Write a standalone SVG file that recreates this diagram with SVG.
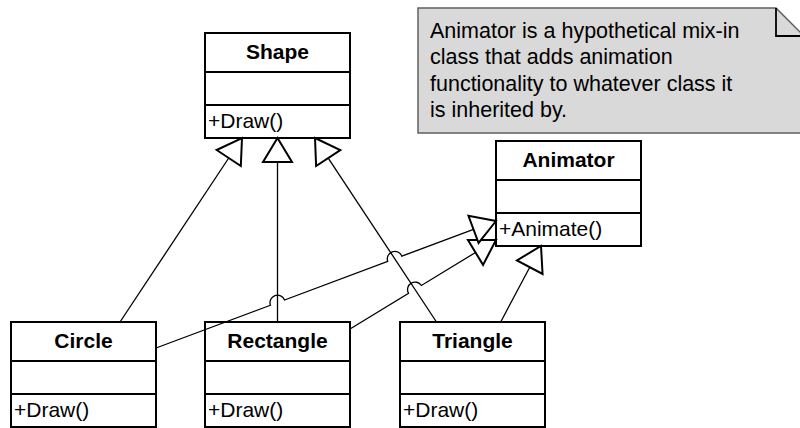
<svg xmlns="http://www.w3.org/2000/svg" width="800" height="428" viewBox="0 0 800 428">
<style>
.box{fill:#fff;stroke:#000;stroke-width:2}
.sep{stroke:#000;stroke-width:2}
.name{font-family:"Liberation Sans",Arial,sans-serif;font-size:21px;font-weight:bold;text-anchor:middle;fill:#000}
.mem{font-family:"Liberation Sans",Arial,sans-serif;font-size:21px;fill:#000}
.note{font-family:"Liberation Sans",Arial,sans-serif;font-size:21.5px;fill:#000}
.line{fill:none;stroke:#000;stroke-width:1.3}
.head{fill:#fff;stroke:#000;stroke-width:2;stroke-linejoin:miter}
</style>
<rect width="800" height="428" fill="#fff"/>

<g id="note">
<path d="M418,8 L776,8 L804,36 L804,133 L418,133 Z" fill="#d9d9d9" stroke="#606060" stroke-width="1.5"/>
<path d="M776,8 L776,36 L804,36" fill="none" stroke="#000" stroke-width="1.8"/>
<text class="note" x="430" y="37.5">Animator is a hypothetical mix-in</text>
<text class="note" x="430" y="64">class that adds animation</text>
<text class="note" x="430" y="90.5">functionality to whatever class it</text>
<text class="note" x="430" y="117">is inherited by.</text>
</g>

<g id="shape">
<rect class="box" x="205" y="33" width="145" height="105"/>
<line class="sep" x1="205" y1="72" x2="350" y2="72"/>
<line class="sep" x1="205" y1="105" x2="350" y2="105"/>
<text class="name" x="277.5" y="59">Shape</text>
<text class="mem" x="208" y="127.5">+Draw()</text>
</g>

<g id="animator">
<rect class="box" x="496" y="141" width="145" height="105"/>
<line class="sep" x1="496" y1="180" x2="641" y2="180"/>
<line class="sep" x1="496" y1="213" x2="641" y2="213"/>
<text class="name" x="568.5" y="167">Animator</text>
<text class="mem" x="499" y="235.5">+Animate()</text>
</g>

<g id="circle">
<rect class="box" x="11" y="322" width="145" height="105"/>
<line class="sep" x1="11" y1="361" x2="156" y2="361"/>
<line class="sep" x1="11" y1="394" x2="156" y2="394"/>
<text class="name" x="83.5" y="348">Circle</text>
<text class="mem" x="14" y="416.5">+Draw()</text>
</g>

<g id="rectangle">
<rect class="box" x="205" y="322" width="145" height="105"/>
<line class="sep" x1="205" y1="361" x2="350" y2="361"/>
<line class="sep" x1="205" y1="394" x2="350" y2="394"/>
<text class="name" x="277.5" y="348">Rectangle</text>
<text class="mem" x="208" y="416.5">+Draw()</text>
</g>

<g id="triangle">
<rect class="box" x="400" y="322" width="145" height="105"/>
<line class="sep" x1="400" y1="361" x2="545" y2="361"/>
<line class="sep" x1="400" y1="394" x2="545" y2="394"/>
<text class="name" x="472.5" y="348">Triangle</text>
<text class="mem" x="403" y="416.5">+Draw()</text>
</g>

<g id="connectors">
<!-- Circle -> Shape -->
<path class="line" d="M120,322 L228.74,158.0"/>
<polygon class="head" points="242,138 240.82,166.01 216.66,149.99"/>
<!-- Rectangle -> Shape -->
<path class="line" d="M277.5,322 L277.5,162"/>
<polygon class="head" points="277.5,138 292,162 263,162"/>
<!-- Triangle -> Shape -->
<path class="line" d="M436.5,322 L328.22,158.03"/>
<polygon class="head" points="315,138 340.32,150.04 316.12,166.02"/>
<!-- Triangle -> Animator -->
<path class="line" d="M500.7,322 L529.76,267.2"/>
<polygon class="head" points="541,246 542.57,273.99 516.95,260.41"/>
<!-- Rectangle -> Animator -->
<path class="line" d="M350,329 L408.57,293.30 A7.5,7.5 0 0 1 421.37,285.49 L475.51,252.49"/>
<polygon class="head" points="496,240 483.06,264.87 467.96,240.11"/>
<!-- Circle -> Animator -->
<path class="line" d="M156,348 L270.47,305.24 A7.5,7.5 0 0 1 284.53,300.0 L387.76,261.43 A7.5,7.5 0 0 1 401.82,256.19 L473.52,229.40"/>
<polygon class="head" points="496,221 478.59,242.98 468.45,215.82"/>
</g>
</svg>
